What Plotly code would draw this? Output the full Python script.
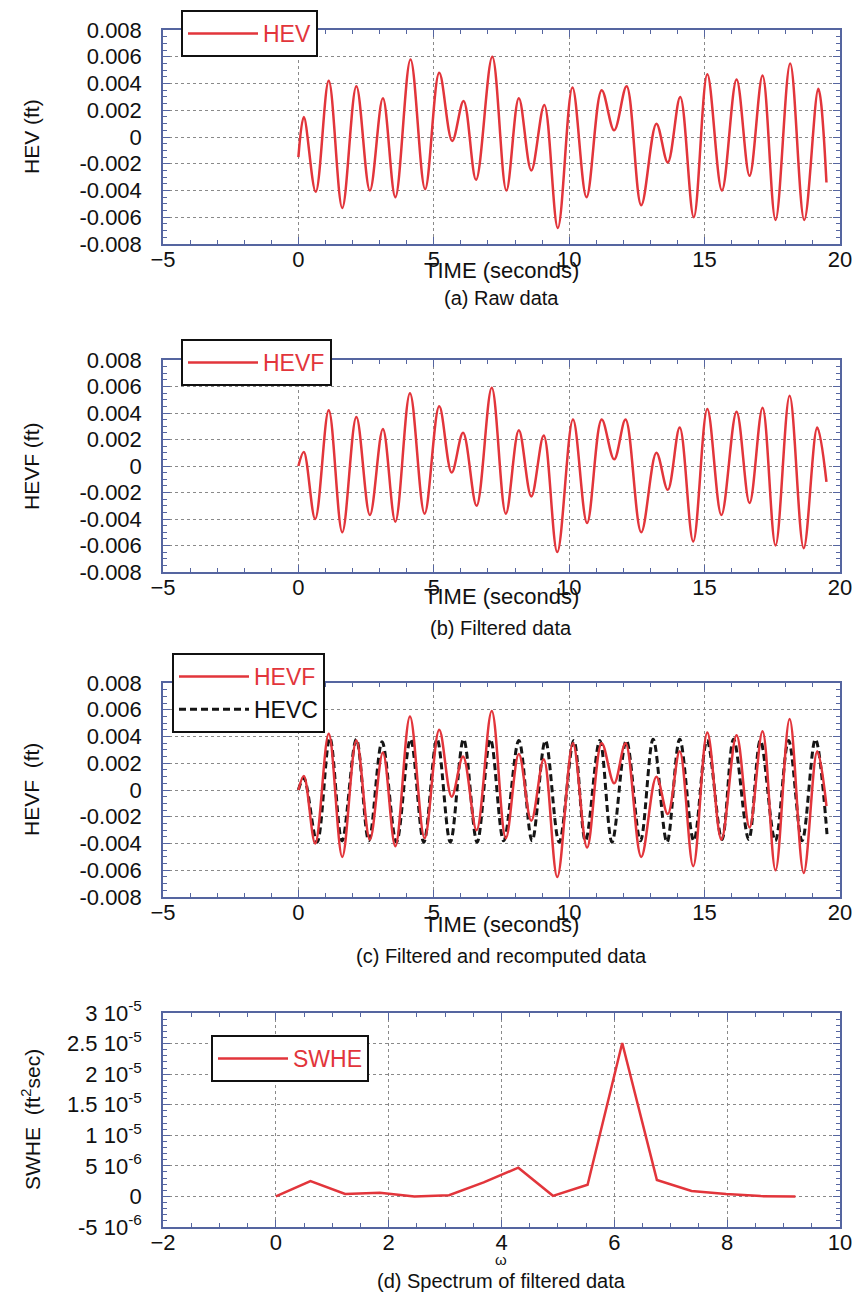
import plotly.graph_objects as go

# ---------------- data ----------------
# (a) raw data HEV: extrema of the record
hev_t = [0.0, 0.2, 0.64, 1.12, 1.62, 2.14, 2.64, 3.12, 3.58, 4.14, 4.68, 5.2, 5.68, 6.1, 6.56,
         7.16, 7.68, 8.14, 8.6, 9.08, 9.58, 10.12, 10.64, 11.2, 11.66, 12.12, 12.66, 13.22,
         13.64, 14.1, 14.6, 15.1, 15.64, 16.18, 16.66, 17.14, 17.62, 18.16, 18.68, 19.2, 19.5]
hev_v = [-0.0015, 0.0015, -0.0041, 0.0042, -0.0053, 0.0038, -0.0040, 0.0029, -0.0045, 0.0058,
         -0.0039, 0.0048, -0.0003, 0.0027, -0.0032, 0.0060, -0.0040, 0.0029, -0.0025, 0.0024,
         -0.0068, 0.0037, -0.0045, 0.0035, 0.0005, 0.0038, -0.0051, 0.0010, -0.0019, 0.0030,
         -0.0060, 0.0047, -0.0040, 0.0043, -0.0029, 0.0046, -0.0062, 0.0055, -0.0062, 0.0036,
         -0.0034]

# (b), (c) filtered data HEVF
hevf_t = [0.0, 0.2, 0.62, 1.12, 1.62, 2.14, 2.64, 3.12, 3.58, 4.12, 4.66, 5.2, 5.66, 6.08, 6.58,
          7.14, 7.66, 8.14, 8.6, 9.06, 9.56, 10.14, 10.66, 11.2, 11.66, 12.08, 12.66, 13.22,
          13.64, 14.08, 14.58, 15.1, 15.62, 16.18, 16.66, 17.14, 17.62, 18.14, 18.66, 19.16, 19.5]
hevf_v = [0.0, 0.00105, -0.0040, 0.0042, -0.0050, 0.0037, -0.0037, 0.0028, -0.0042, 0.0055,
          -0.0036, 0.0045, -0.0005, 0.0025, -0.0030, 0.0059, -0.0036, 0.0027, -0.0023, 0.0023,
          -0.0065, 0.0035, -0.0043, 0.0035, 0.0005, 0.0035, -0.0050, 0.0010, -0.0018, 0.0029,
          -0.0057, 0.0043, -0.0037, 0.0041, -0.0028, 0.0044, -0.0060, 0.0053, -0.0062, 0.0029,
          -0.0012]

# (c) recomputed data HEVC
hevc_t = [0.0, 0.2, 0.69, 1.16, 1.61, 2.14, 2.6, 3.09, 3.62, 4.14, 4.63, 5.12, 5.61, 6.1, 6.6,
          7.09, 7.58, 8.14, 8.63, 9.12, 9.63, 10.17, 10.6, 11.13, 11.58, 12.11, 12.63, 13.1,
          13.61, 14.08, 14.6, 15.09, 15.64, 16.07, 16.63, 17.06, 17.61, 18.1, 18.6, 19.09, 19.52]
hevc_v = [0.0, 0.0009, -0.0039, 0.0039, -0.0038, 0.0038, -0.0038, 0.0036, -0.0039, 0.0038,
          -0.0039, 0.0038, -0.0039, 0.0038, -0.0039, 0.0038, -0.0038, 0.0037, -0.0038, 0.0037,
          -0.0039, 0.0037, -0.0038, 0.0037, -0.0039, 0.0037, -0.0038, 0.0038, -0.0039, 0.0038,
          -0.0038, 0.0037, -0.0037, 0.0038, -0.0037, 0.0037, -0.0038, 0.0037, -0.0038, 0.0038,
          -0.0033]

# (d) spectrum of filtered data
omega = [0.0, 0.614, 1.228, 1.842, 2.456, 3.07, 3.684, 4.298, 4.912, 5.526, 6.14, 6.754,
         7.368, 7.982, 8.596, 9.21]
swhe = [0.0, 2.5e-6, 0.4e-6, 0.6e-6, 0.0, 0.2e-6, 2.3e-6, 4.7e-6, 0.1e-6, 1.9e-6, 2.51e-5,
        2.7e-6, 0.9e-6, 0.4e-6, 0.05e-6, 0.0]

time_ticks = [-5, 0, 5, 10, 15, 20]
hev_ticks = [0.008, 0.006, 0.004, 0.002, 0, -0.002, -0.004, -0.006, -0.008]
hev_ticktext = ["0.008", "0.006", "0.004", "0.002", "0", "-0.002", "-0.004", "-0.006", "-0.008"]
omega_ticks = [-2, 0, 2, 4, 6, 8, 10]
swhe_ticks = [3e-5, 2.5e-5, 2e-5, 1.5e-5, 1e-5, 5e-6, 0, -5e-6]
swhe_ticktext = ["3 10<sup>-5</sup>", "2.5 10<sup>-5</sup>", "2 10<sup>-5</sup>",
                 "1.5 10<sup>-5</sup>", "1 10<sup>-5</sup>", "5 10<sup>-6</sup>", "0",
                 "-5 10<sup>-6</sup>"]

# ---------------- styling ----------------
W, H = 854, 1298
RED = "#e2353b"
FRAME = "#5565a0"
GRID = "#8a8a8a"
FONT = "Liberation Sans, Arial, sans-serif"

x_left, x_right = 163 / W, 840 / W
panels = [(30, 244), (360, 572), (683, 897), (1013, 1227)]  # top/bottom pixel rows


def ydom(top, bot):
    return [1 - bot / H, 1 - top / H]


fig = go.Figure()

fig.add_trace(go.Scatter(x=hev_t, y=hev_v, mode="lines", line=dict(color=RED, width=2.5, shape="spline"),
                         name="<span style='color:%s'>HEV</span>" % RED, xaxis="x", yaxis="y",
                         legend="legend", showlegend=True))
fig.add_trace(go.Scatter(x=hevf_t, y=hevf_v, mode="lines", line=dict(color=RED, width=2.5, shape="spline"),
                         name="<span style='color:%s'>HEVF</span>" % RED, xaxis="x2", yaxis="y2",
                         legend="legend2", showlegend=True))
fig.add_trace(go.Scatter(x=hevc_t, y=hevc_v, mode="lines",
                         line=dict(color="#151515", width=3, dash="7px,4px", shape="spline"),
                         name="HEVC", xaxis="x3", yaxis="y3", legend="legend3", showlegend=False))
fig.add_trace(go.Scatter(x=hevf_t, y=hevf_v, mode="lines", line=dict(color=RED, width=2.5, shape="spline"),
                         name="<span style='color:%s'>HEVF</span>" % RED, xaxis="x3", yaxis="y3",
                         legend="legend3", showlegend=True))
# legend-only entry for HEVC so it lists second
fig.add_trace(go.Scatter(x=[None], y=[None], mode="lines",
                         line=dict(color="#151515", width=3, dash="7px,4px"),
                         name="HEVC", xaxis="x3", yaxis="y3", legend="legend3", showlegend=True))
fig.add_trace(go.Scatter(x=omega, y=swhe, mode="lines", line=dict(color=RED, width=2.5),
                         name="<span style='color:%s'>SWHE</span>" % RED, xaxis="x4", yaxis="y4",
                         legend="legend4", showlegend=True))

common_axis = dict(showline=True, linecolor=FRAME, linewidth=1.5, mirror="ticks",
                   ticks="inside", ticklen=7, tickcolor=FRAME, tickwidth=1,
                   showgrid=True, gridcolor=GRID, griddash="dot", gridwidth=1,
                   zeroline=False, automargin=False,
                   tickfont=dict(family=FONT, size=22, color="#111"))

layout = dict(width=W, height=H, margin=dict(l=0, r=0, t=0, b=0, autoexpand=False),
              showlegend=True,
              paper_bgcolor="white", plot_bgcolor="white", font=dict(family=FONT, color="#111"))

suffix = ["", "2", "3", "4"]
for i, (top, bot) in enumerate(panels):
    s = suffix[i]
    xa = dict(common_axis, domain=[x_left, x_right], anchor="y" + s, ticklabelstandoff=-5)
    ya = dict(common_axis, domain=ydom(top, bot), anchor="x" + s, ticklabelstandoff=15)
    if i < 3:
        xa.update(range=[-5, 20], tickvals=time_ticks, minor=dict(dtick=1, ticks="inside", ticklen=4,
                  tickcolor=FRAME, showgrid=False))
        ya.update(range=[-0.008, 0.008], tickvals=hev_ticks, ticktext=hev_ticktext,
                  minor=dict(dtick=0.0005, ticks="inside", ticklen=4, tickcolor=FRAME, showgrid=False))
    else:
        xa.update(range=[-2, 10], tickvals=omega_ticks, minor=dict(dtick=0.5, ticks="inside", ticklen=4,
                  tickcolor=FRAME, showgrid=False))
        ya.update(range=[-5e-6, 3e-5], tickvals=swhe_ticks, ticktext=swhe_ticktext,
                  minor=dict(dtick=1e-6, ticks="inside", ticklen=4, tickcolor=FRAME, showgrid=False))
    layout["xaxis" + s] = xa
    layout["yaxis" + s] = ya

legend_pos = [(181, 10), (181, 339), (172, 653), (211, 1035)]
for i, (lx, ly) in enumerate(legend_pos):
    key = "legend" if i == 0 else "legend%d" % (i + 1)
    layout[key] = dict(x=lx / W, y=1 - ly / H, xanchor="left", yanchor="top",
                       bgcolor="white", bordercolor="#111", borderwidth=2,
                       font=dict(family=FONT, size=23, color="#111"), itemwidth=70,
                       tracegroupgap=0, visible=True)

fig.update_layout(**layout)

# axis titles & captions
ytitles = ["HEV (ft)", "HEVF (ft)", "HEVF  (ft)", "SWHE  (ft<sup>2</sup>sec)"]
xtitles = [("TIME (seconds)", 270, 22), ("TIME (seconds)", 597, 22), ("TIME (seconds)", 924, 22), ("ω", 1259, 15)]
captions = [("(a) Raw data", 298), ("(b) Filtered data", 628), ("(c) Filtered and recomputed data", 956),
            ("(d) Spectrum of filtered data", 1281)]
for i, (top, bot) in enumerate(panels):
    fig.add_annotation(x=31 / W, y=1 - (top + bot) / 2 / H, xref="paper", yref="paper",
                       xanchor="center", yanchor="middle",
                       text=ytitles[i], textangle=-90, showarrow=False,
                       font=dict(family=FONT, size=21, color="#111"))
    t, yy, fs = xtitles[i]
    fig.add_annotation(x=501 / W, y=1 - yy / H, xref="paper", yref="paper", text=t, showarrow=False,
                       xanchor="center", yanchor="middle",
                       font=dict(family=FONT, size=fs, color="#111"))
    c, cy = captions[i]
    fig.add_annotation(x=501 / W, y=1 - cy / H, xref="paper", yref="paper", text=c, showarrow=False,
                       xanchor="center", yanchor="middle",
                       font=dict(family=FONT, size=20, color="#111"))

fig.write_html("out.html", config={"displayModeBar": False},
               post_script="document.body.style.margin='0';document.body.style.padding='0';")
